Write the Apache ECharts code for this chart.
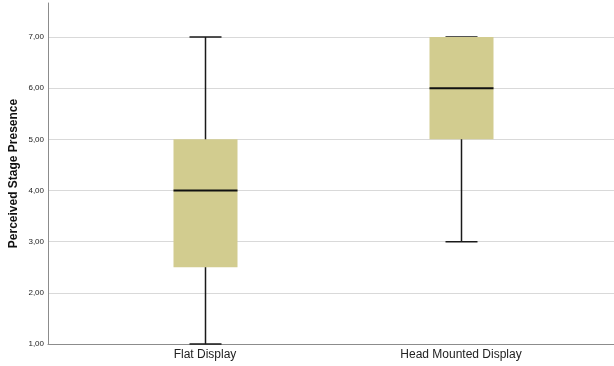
<!DOCTYPE html>
<html>
<head>
<meta charset="utf-8">
<script src="https://cdn.jsdelivr.net/npm/echarts@6/dist/echarts.min.js"></script>
<style>
html,body{margin:0;padding:0;background:#fff;}
#chart{width:614px;height:366px;}
</style>
</head>
<body>
<div id="chart"></div>
<script>
const categories = ['Flat Display', 'Head Mounted Display'];
const minValues = [1, 3];
const q1Values = [2.5, 5];
const medianValues = [4, 6];
const q3Values = [5, 7];
const maxValues = [7, 7];
const yTickValues = [1, 2, 3, 4, 5, 6, 7];
const yTickLabels = ['1,00', '2,00', '3,00', '4,00', '5,00', '6,00', '7,00'];
const yTitle = 'Perceived Stage Presence';

const boxData = categories.map((c, i) => [i, minValues[i], q1Values[i], medianValues[i], q3Values[i], maxValues[i]]);

const FONT = '"Liberation Sans", Arial, sans-serif';
const chart = echarts.init(document.getElementById('chart'), null, {renderer: 'canvas'});

function renderBox(params, api) {
  const idx = api.value(0);
  const vMin = api.value(1), vQ1 = api.value(2), vMed = api.value(3), vQ3 = api.value(4), vMax = api.value(5);
  const band = api.size([1, 0])[0];
  const boxW = band * 0.25;
  const capW = band * 0.125;
  const pMin = api.coord([idx, vMin]);
  const pQ1 = api.coord([idx, vQ1]);
  const pMed = api.coord([idx, vMed]);
  const pQ3 = api.coord([idx, vQ3]);
  const pMax = api.coord([idx, vMax]);
  const cx = Math.round(pMin[0]) + 0.5;
  const lineStyle = {stroke: '#1a1a1a', lineWidth: 1.5};
  return {
    type: 'group',
    children: [
      {type: 'line', shape: {x1: cx, y1: pMax[1], x2: cx, y2: pMin[1]}, style: lineStyle},
      {type: 'line', shape: {x1: cx - capW / 2, y1: pMax[1], x2: cx + capW / 2, y2: pMax[1]}, style: lineStyle},
      {type: 'line', shape: {x1: cx - capW / 2, y1: pMin[1], x2: cx + capW / 2, y2: pMin[1]}, style: lineStyle},
      {type: 'rect', shape: {x: cx - boxW / 2, y: pQ3[1], width: boxW, height: pQ1[1] - pQ3[1]}, style: {fill: '#d2cc8f'}},
      {type: 'line', shape: {x1: cx - boxW / 2, y1: pMed[1], x2: cx + boxW / 2, y2: pMed[1]}, style: {stroke: '#111', lineWidth: 2}}
    ]
  };
}

chart.setOption({
  animation: false,
  backgroundColor: '#fff',
  grid: [
    {left: 48, right: 0, top: 37, bottom: 22},
    {left: 48, right: 0, top: 3, bottom: 22},
    {left: 77, right: 25, top: 37, bottom: 22}
  ],
  xAxis: [
    {gridIndex: 0, type: 'value', show: false, min: 0, max: 1},
    {gridIndex: 1, type: 'value', min: 0, max: 1,
      axisLine: {show: true, lineStyle: {color: '#8c8c8c', width: 1}},
      axisTick: {show: false}, axisLabel: {show: false}, splitLine: {show: false}},
    {gridIndex: 2, type: 'category', data: categories,
      axisLine: {show: false}, axisTick: {show: false}, splitLine: {show: false},
      axisLabel: {margin: 5, fontSize: 12, color: '#222', fontFamily: FONT}}
  ],
  yAxis: [
    {gridIndex: 0, type: 'value', min: 1, max: 7, interval: 1,
      axisLine: {show: false}, axisTick: {show: false},
      axisLabel: {margin: 4, fontSize: 8, color: '#222', fontFamily: FONT,
        formatter: v => { const k = yTickValues.indexOf(v); return k >= 0 ? yTickLabels[k] : ''; }},
      splitLine: {show: true, lineStyle: {color: '#d9d9d9', width: 1}}},
    {gridIndex: 1, type: 'value', min: 0, max: 1,
      axisLine: {show: true, lineStyle: {color: '#8c8c8c', width: 1}},
      axisTick: {show: false}, axisLabel: {show: false}, splitLine: {show: false},
      name: yTitle, nameLocation: 'middle', nameGap: 28,
      nameTextStyle: {fontSize: 12, fontWeight: 'bold', color: '#111', fontFamily: FONT}},
    {gridIndex: 2, type: 'value', min: 1, max: 7, interval: 1, show: false}
  ],
  series: [
    {type: 'custom', xAxisIndex: 2, yAxisIndex: 2, renderItem: renderBox,
      encode: {x: 0, y: [1, 2, 3, 4, 5]}, data: boxData, z: 5}
  ]
});
</script>
</body>
</html>
